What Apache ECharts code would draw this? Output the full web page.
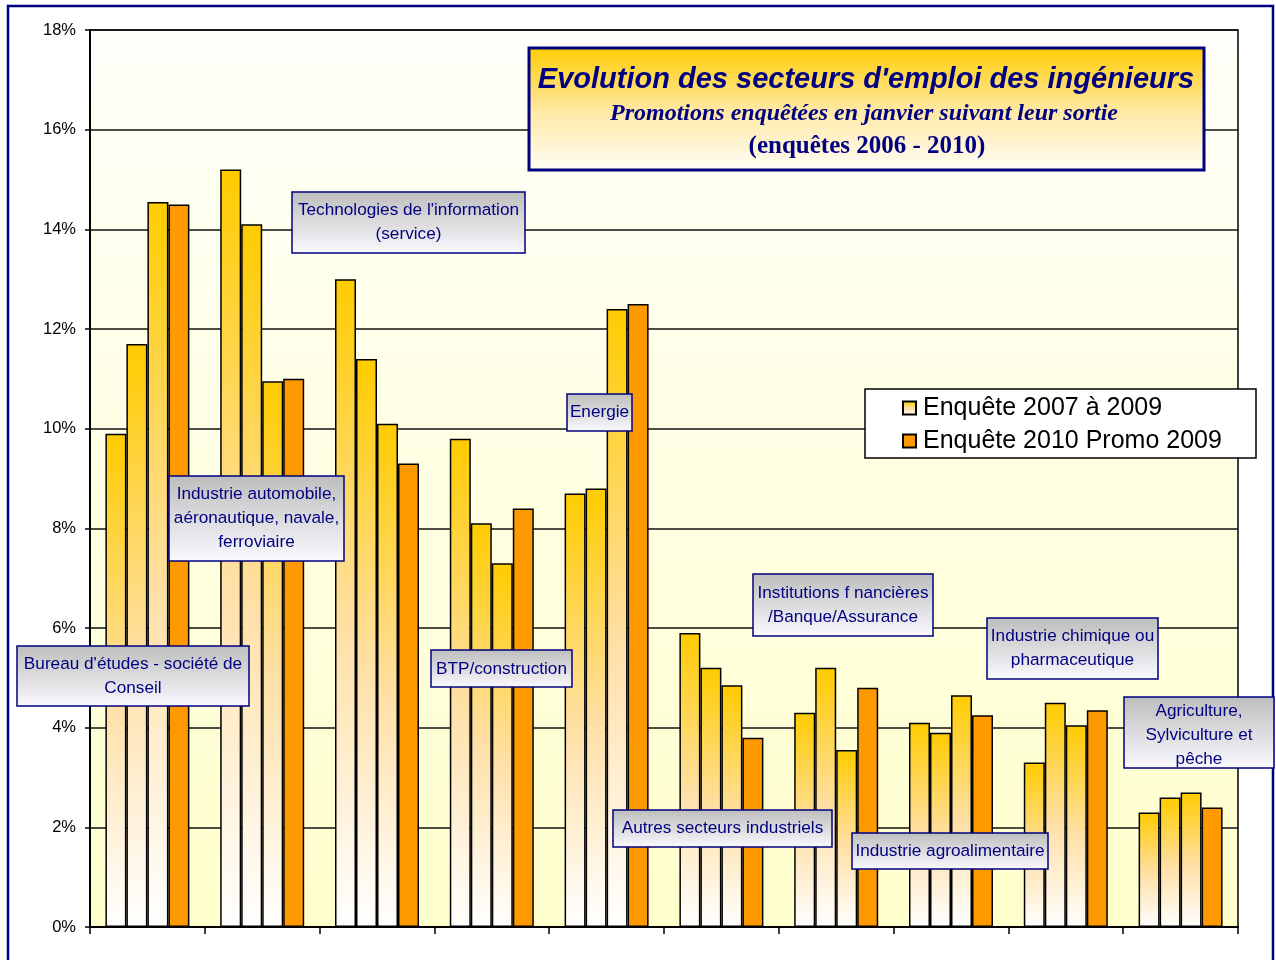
<!DOCTYPE html>
<html>
<head>
<meta charset="utf-8">
<script src="https://cdn.jsdelivr.net/npm/echarts@6/dist/echarts.min.js"></script>
<style>
  html, body { margin: 0; padding: 0; background: #fff; }
  #chart { width: 1276px; height: 960px; }
</style>
</head>
<body>
<div id="chart"></div>
<script>
// secteurs (une catégorie par groupe de barres)
const categories = [
  "Bureau d'études - société de Conseil",
  'Industrie automobile, aéronautique, navale, ferroviaire',
  "Technologies de l'information (service)",
  'BTP/construction',
  'Energie',
  'Autres secteurs industriels',
  'Institutions financières /Banque/Assurance',
  'Industrie agroalimentaire',
  'Industrie chimique ou pharmaceutique',
  'Agriculture, Sylviculture et pêche'
];

// parts en %
const enquete2007 = [9.9, 15.2, 13.0, 9.8, 8.7, 5.9, 4.3, 4.1, 3.3, 2.3];
const enquete2008 = [11.7, 14.1, 11.4, 8.1, 8.8, 5.2, 5.2, 3.9, 4.5, 2.6];
const enquete2009 = [14.55, 10.95, 10.1, 7.3, 12.4, 4.85, 3.55, 4.65, 4.05, 2.7];
const enquete2010 = [14.5, 11.0, 9.3, 8.4, 12.5, 3.8, 4.8, 4.25, 4.35, 2.4];

const yTicks = [0, 2, 4, 6, 8, 10, 12, 14, 16, 18];

const legendNames = ['Enquête 2007 à 2009', 'Enquête 2010 Promo 2009'];

// étiquettes des secteurs, telles qu'écrites dans les cadres
const boxTexts = [
  "Bureau d'études - société de\nConseil",
  'Industrie automobile,\naéronautique, navale,\nferroviaire',
  "Technologies de l'information\n(service)",
  'BTP/construction',
  'Energie',
  'Autres secteurs industriels',
  'Institutions f nancières\n/Banque/Assurance',
  'Industrie agroalimentaire',
  'Industrie chimique ou\npharmaceutique',
  'Agriculture,\nSylviculture et\npêche'
];

const titleLines = [
  "Evolution des secteurs d'emploi des ingénieurs",
  'Promotions enquêtées en janvier suivant leur sortie',
  '(enquêtes 2006 - 2010)'
];

// cadres : [x, y, largeur, hauteur, centre du texte y]
const boxLayout = [
  [17, 646, 232, 60, 676],
  [169, 476, 175, 85, 518],
  [292, 192, 233, 61, 222],
  [431, 650, 141, 37, 669],
  [567, 394, 65, 37, 412],
  [613, 810, 219, 37, 828],
  [753, 574, 180, 62, 605],
  [852, 833, 196, 36, 851],
  [987, 618, 171, 61, 648],
  [1124, 697, 150, 71, 735]
];

const navy = '#000080';
const sans = "'Liberation Sans', Arial, sans-serif";
const serif = "'Liberation Serif', 'Times New Roman', serif";

const lightGrad = new echarts.graphic.LinearGradient(0, 0, 0, 1, [
  { offset: 0, color: '#FFCC00' },
  { offset: 0.55, color: '#FFE0A8' },
  { offset: 1, color: '#FFFFFF' }
]);
const orange = '#FF9900';

const myChart = echarts.init(document.getElementById('chart'));

const graphics = [
  {
    type: 'rect', z: 1,
    shape: { x: 8, y: 6, width: 1265, height: 970 },
    style: { fill: null, stroke: navy, lineWidth: 2.5 }
  },
  // cadre du titre
  {
    type: 'rect', z: 50,
    shape: { x: 529, y: 48, width: 675, height: 122 },
    style: {
      fill: new echarts.graphic.LinearGradient(0, 0, 0, 1, [
        { offset: 0, color: '#FFCC00' },
        { offset: 0.5, color: '#FFE8A0' },
        { offset: 1, color: '#FFFDF8' }
      ]),
      stroke: navy, lineWidth: 3
    }
  },
  {
    type: 'text', z: 51,
    style: { x: 866, y: 80, text: titleLines[0], fill: navy,
      font: 'italic bold 29px ' + sans, textAlign: 'center', textVerticalAlign: 'middle' }
  },
  {
    type: 'text', z: 51,
    style: { x: 864, y: 114, text: titleLines[1], fill: navy,
      font: 'italic bold 24px ' + serif, textAlign: 'center', textVerticalAlign: 'middle' }
  },
  {
    type: 'text', z: 51,
    style: { x: 867, y: 147, text: titleLines[2], fill: navy,
      font: 'bold 25px ' + serif, textAlign: 'center', textVerticalAlign: 'middle' }
  },
  // cadre de la légende
  {
    type: 'rect', z: 40,
    shape: { x: 865, y: 389, width: 391, height: 69 },
    style: { fill: '#FFFFFF', stroke: '#000', lineWidth: 1.5 }
  }
];

boxTexts.forEach(function (t, i) {
  const b = boxLayout[i];
  graphics.push({
    type: 'rect', z: 60,
    shape: { x: b[0], y: b[1], width: b[2], height: b[3] },
    style: {
      fill: new echarts.graphic.LinearGradient(0, 0, 0, 1, [
        { offset: 0, color: '#BDBDBD' },
        { offset: 1, color: '#FAFAFF' }
      ]),
      stroke: navy, lineWidth: 1.5
    }
  });
  graphics.push({
    type: 'text', z: 61,
    style: {
      x: b[0] + b[2] / 2, y: b[4], text: t, fill: navy,
      font: '17.2px ' + sans, lineHeight: 24,
      textAlign: 'center', textVerticalAlign: 'middle'
    }
  });
});

function lightSeries(data) {
  return {
    name: legendNames[0],
    type: 'bar',
    data: data,
    barWidth: 21,
    barGap: '0%',
    itemStyle: { color: lightGrad, borderColor: '#000', borderWidth: 1.5 }
  };
}

const option = {
  animation: false,
  backgroundColor: '#FFFFFF',
  textStyle: { fontFamily: sans },
  grid: {
    left: 90, right: 38, top: 30, bottom: 33,
    show: true,
    borderColor: '#000',
    borderWidth: 1.5,
    backgroundColor: new echarts.graphic.LinearGradient(0, 0, 0, 1, [
      { offset: 0, color: '#FFFFFA' },
      { offset: 1, color: '#FFFFCC' }
    ])
  },
  legend: {
    data: legendNames,
    orient: 'vertical',
    left: 897,
    top: 389,
    itemWidth: 13,
    itemHeight: 13,
    itemGap: 5,
    icon: 'rect',
    z: 45,
    textStyle: { fontSize: 25, color: '#000', fontFamily: sans, lineHeight: 28, padding: [0, 0, 0, 2] }
  },
  xAxis: {
    type: 'category',
    data: categories,
    axisLine: { lineStyle: { color: '#000', width: 2 } },
    axisTick: { show: true, interval: 0, length: 7, lineStyle: { color: '#000', width: 1.5 } },
    axisLabel: { show: false, interval: 0 },
    splitLine: { show: false }
  },
  yAxis: {
    type: 'value',
    min: 0,
    max: 18,
    interval: 2,
    axisLine: { show: true, lineStyle: { color: '#000', width: 2 } },
    axisTick: { show: true, length: 5, lineStyle: { color: '#000', width: 1.5 } },
    axisLabel: {
      color: '#000', fontSize: 16.5, fontFamily: sans, margin: 14,
      formatter: function (v) { return yTicks.indexOf(v) >= 0 ? v + '%' : ''; }
    },
    splitLine: { lineStyle: { color: '#111', width: 1.5 } }
  },
  series: [
    lightSeries(enquete2007),
    lightSeries(enquete2008),
    lightSeries(enquete2009),
    {
      name: legendNames[1],
      type: 'bar',
      data: enquete2010,
      barWidth: 21,
      barGap: '0%',
      itemStyle: { color: orange, borderColor: '#000', borderWidth: 1.5 }
    }
  ],
  graphic: graphics
};

myChart.setOption(option);
</script>
</body>
</html>
